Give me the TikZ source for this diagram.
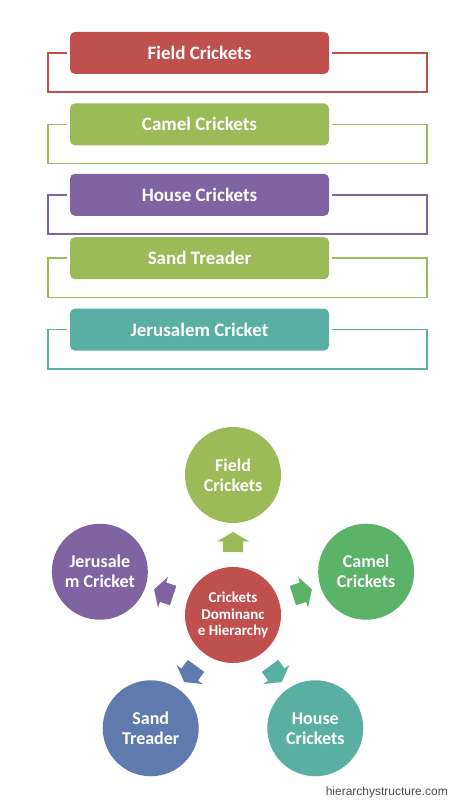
\documentclass[tikz,border=0pt]{standalone}
\usepackage{fontspec}
\setmainfont{Carlito}
\newfontfamily\webfont{Liberation Sans}
\usetikzlibrary{positioning}
\usetikzlibrary{shapes.arrows}

\definecolor{critred}{HTML}{C0504D}
\definecolor{critgreen}{HTML}{9BBB59}
\definecolor{critpurple}{HTML}{8064A2}
\definecolor{critteal}{HTML}{5AAFA3}
\definecolor{critleaf}{HTML}{5BB36A}
\definecolor{critblue}{HTML}{5F7BAE}

\tikzset{
 listbox/.style={rounded corners=5pt,minimum width=259pt,minimum height=42pt,inner sep=0pt,text=white,font=\fontsize{19}{22}\selectfont\bfseries},
 bracket/.style={line width=1.5pt},
 ring/.style={circle,minimum size=96pt,inner sep=0pt,text=white,align=center,font=\fontsize{18}{20}\selectfont\bfseries},
 pointer/.style={single arrow,minimum height=20pt,minimum width=32pt,single arrow head extend=6pt,single arrow tip angle=120,inner xsep=0pt,inner ysep=10pt}
}

\begin{document}
\begin{tikzpicture}[x=1pt,y=1pt]
 \useasboundingbox (0,0) rectangle (450,800);
 % list of kinds
 \node[listbox,fill=critred] (fc) at (199.5,747) {Field Crickets};
 \node[listbox,fill=critgreen,below=29pt of fc] (cc) {Camel Crickets};
 \node[listbox,fill=critpurple,below=28pt of cc] (hc) {House Crickets};
 \node[listbox,fill=critgreen,below=21pt of hc] (st) {Sand Treader};
 \node[listbox,fill=critteal,below=29pt of st] (jc) {Jerusalem Cricket};
 \draw[bracket,critred] ([xshift=-3pt]fc.west) -- ++(-19,0) |- ([yshift=-18pt]fc.south) -| ([xshift=98pt]fc.east) -- ([xshift=3pt]fc.east);
 \draw[bracket,critgreen] ([xshift=-3pt]cc.west) -- ++(-19,0) |- ([yshift=-18pt]cc.south) -| ([xshift=98pt]cc.east) -- ([xshift=3pt]cc.east);
 \draw[bracket,critpurple] ([xshift=-3pt]hc.west) -- ++(-19,0) |- ([yshift=-18pt]hc.south) -| ([xshift=98pt]hc.east) -- ([xshift=3pt]hc.east);
 \draw[bracket,critgreen] ([xshift=-3pt]st.west) -- ++(-19,0) |- ([yshift=-18pt]st.south) -| ([xshift=98pt]st.east) -- ([xshift=3pt]st.east);
 \draw[bracket,critteal] ([xshift=-3pt]jc.west) -- ++(-19,0) |- ([yshift=-18pt]jc.south) -| ([xshift=98pt]jc.east) -- ([xshift=3pt]jc.east);

 % radial hierarchy
 \node[ring,fill=critred,font=\fontsize{15}{16.5}\selectfont\bfseries] (hub) at (233,185) {Crickets\\Dominanc\\e Hierarchy};
 \node[ring,fill=critgreen] (field) at ([shift={(90:140)}]hub.center) {Field\\Crickets};
 \node[ring,fill=critleaf] (camel) at ([shift={(18:140)}]hub.center) {Camel\\Crickets};
 \node[ring,fill=critteal] (house) at ([shift={(-54:140)}]hub.center) {House\\Crickets};
 \node[ring,fill=critblue] (sand) at ([shift={(-126:140)}]hub.center) {Sand\\Treader};
 \node[ring,fill=critpurple] (jerus) at ([shift={(162:140)}]hub.center) {Jerusale\\m Cricket};
 \node[pointer,fill=critgreen,rotate=90] (tofield) at ([shift={(90:70)}]hub.center) {};
 \node[pointer,fill=critleaf,rotate=18] (tocamel) at ([shift={(18:70)}]hub.center) {};
 \node[pointer,fill=critteal,rotate=-54] (tohouse) at ([shift={(-54:70)}]hub.center) {};
 \node[pointer,fill=critblue,rotate=-126] (tosand) at ([shift={(-126:70)}]hub.center) {};
 \node[pointer,fill=critpurple,rotate=162] (tojerus) at ([shift={(162:70)}]hub.center) {};

 \node[anchor=base east,text=black!70,font=\webfont\fontsize{12}{14}\selectfont,inner sep=0pt] (site) at (448,5) {hierarchystructure.com};
\end{tikzpicture}
\end{document}
